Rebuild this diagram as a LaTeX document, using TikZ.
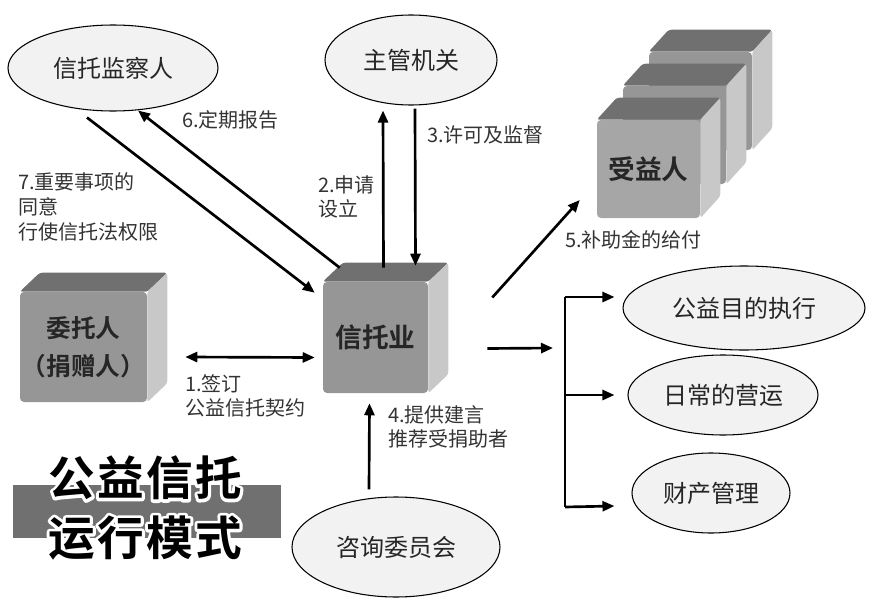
\documentclass[tikz,border=0pt]{standalone}
\usepackage{fontspec}
\setmainfont{Noto Sans CJK SC}[BoldFont={Noto Sans CJK SC Bold}]
\usetikzlibrary{shapes.geometric,arrows.meta,calc}

\definecolor{ovalfill}{RGB}{242,242,242}
\definecolor{facegray}{RGB}{150,150,150}
\definecolor{topgray}{RGB}{112,112,112}
\definecolor{sidegray}{RGB}{200,200,200}
\definecolor{bandgray}{RGB}{112,112,112}

\tikzset{
  oval/.style={ellipse, draw=black, line width=0.8pt, fill=ovalfill, inner sep=0pt,
    text=black!85, font=\fontsize{18}{20}\selectfont},
  cubefront/.style={fill=facegray, rounded corners=3pt, inner sep=0pt, align=center,
    text=black!85, font=\bfseries\fontsize{20}{28.5}\selectfont},
  arr/.style={line width=2pt, -{Triangle[length=9pt,width=7.5pt]}},
  darr/.style={line width=2pt, {Triangle[length=9pt,width=7.5pt]}-{Triangle[length=9pt,width=7.5pt]}},
  lbl/.style={anchor=west, inner sep=0pt, align=left, text=black!80,
    font=\fontsize{15}{17.5}\selectfont},
  ttl/.style={inner sep=0pt, font=\bfseries\fontsize{35}{40}\selectfont\addfontfeature{LetterSpace=5}},
}

% top and right faces of a box, from the front face node
\newcommand{\cubesides}[3]{%
  \fill[topgray, rounded corners=2pt] (#1.north west) -- ++(#2,-#3) -- ($(#1.north east)+(#2,-#3)$) -- (#1.north east) -- cycle;
  \fill[sidegray, rounded corners=2pt] (#1.north east) -- ++(#2,-#3) -- ($(#1.south east)+(#2,-#3)$) -- (#1.south east) -- cycle;
}
% white outlined title text
\newcommand{\halotext}[1]{\special{pdf:literal direct 1 Tr 4.5 w 1 J 1 j 1 1 1 RG}#1\special{pdf:literal direct 0 Tr}}

\begin{document}
\begin{tikzpicture}[x=0.75pt,y=0.75pt,yscale=-1,xscale=1]
\useasboundingbox (0,0) rectangle (872,603);

%Ellipses
\node[oval, minimum width=157.5pt, minimum height=64.5pt] (jc) at (113,68) {信托监察人};
\node[oval, minimum width=129pt, minimum height=67.5pt] (zg) at (411,60) {主管机关};
\node[oval, minimum width=156pt, minimum height=75pt] (zx) at (396,547) {咨询委员会};
\node[oval, minimum width=181.5pt, minimum height=63pt] (gy) at (744,308) {公益目的执行};
\node[oval, minimum width=142.5pt, minimum height=60pt] (rc) at (723,395) {日常的营运};
\node[oval, minimum width=118.5pt, minimum height=60pt] (cc) at (711,493) {财产管理};

%Boxes
\node[cubefront, minimum width=77.25pt, minimum height=73.5pt] (sy3) at (700.5,101) {};
\cubesides{sy3}{20}{22}
\node[cubefront, minimum width=77.25pt, minimum height=73.5pt] (sy2) at (674.5,135) {};
\cubesides{sy2}{20}{22}
\node[cubefront, fill=facegray!85!white, minimum width=77.25pt, minimum height=73.5pt] (sy) at (648.5,169) {受益人};
\cubesides{sy}{20}{22}
\node[cubefront, minimum width=78.75pt, minimum height=83.25pt] (xt) at (375.5,337.5) {信托业};
\cubesides{xt}{20}{19}
\node[cubefront, minimum width=95.25pt, minimum height=82.5pt, font=\bfseries\fontsize{18.5}{28.5}\selectfont] (wt) at (83.5,347) {委托人\\（捐赠人）};
\cubesides{wt}{20}{19}

%Title
\fill[bandgray] (13,485) rectangle (281,538);
\node[ttl, text=white] (haloa) at (145,478) {\halotext{公益信托}};
\node[ttl, text=white] (halob) at (145,538) {\halotext{运行模式}};
\node[ttl] (tta) at (145,478) {公益信托};
\node[ttl] (ttb) at (145,538) {运行模式};

%Straight Lines
\draw[darr] ($(wt.east)+(38,10)$) -- ($(xt.west)+(-8,20)$);
\draw[arr] ($(xt.north)+(8,-14)$) -- ($(zg.south)+(-28,5)$);
\draw[arr] ($(zg.south)+(4,3)$) -- ($(xt.north)+(40,-16)$);
\draw[arr] ($(zx.north)+(-27,-7)$) -- ($(xt.south)+(-6,10)$);
\draw[arr] ($(xt.east)+(64,-40)$) -- ($(sy.west)+(-17,31)$);
\draw[arr] ($(xt.north west)+(17,-14)$) -- ($(jc.south)+(25,-1)$);
\draw[arr] ($(jc.south)+(-26,6)$) -- ($(xt.north west)+(-8,11)$);

%Bracket
\coordinate (br) at (565,348);
\coordinate (brtop) at (565,297);
\coordinate (brbot) at (565,507);
\draw[arr] ($(xt.east)+(59,11)$) -- ($(br)+(-12,0)$);
\draw[line width=2pt] (brtop) -- (brbot);
\draw[arr] (brtop) -- ($(gy.west)+(-8,-11)$);
\draw[arr] (rc.west -| br) -- ($(rc.west)+(-13,0)$);
\draw[arr] (brbot) -- ($(cc.west)+(-17,13)$);

% Text Node
\node[lbl] (lb1) at (185,396) {1.签订\\公益信托契约};
\node[lbl] (lb2) at (318,197) {2.申请\\设立};
\node[lbl] (lb3) at (427,135) {3.许可及监督};
\node[lbl] (lb4) at (388,427) {4.提供建言\\推荐受捐助者};
\node[lbl] (lb5) at (565,240) {5.补助金的给付};
\node[lbl] (lb6) at (182,120) {6.定期报告};
\node[lbl, font=\fontsize{15}{18.75}\selectfont] (lb7) at (18,207) {7.重要事项的\\同意\\行使信托法权限};

\end{tikzpicture}
\end{document}
